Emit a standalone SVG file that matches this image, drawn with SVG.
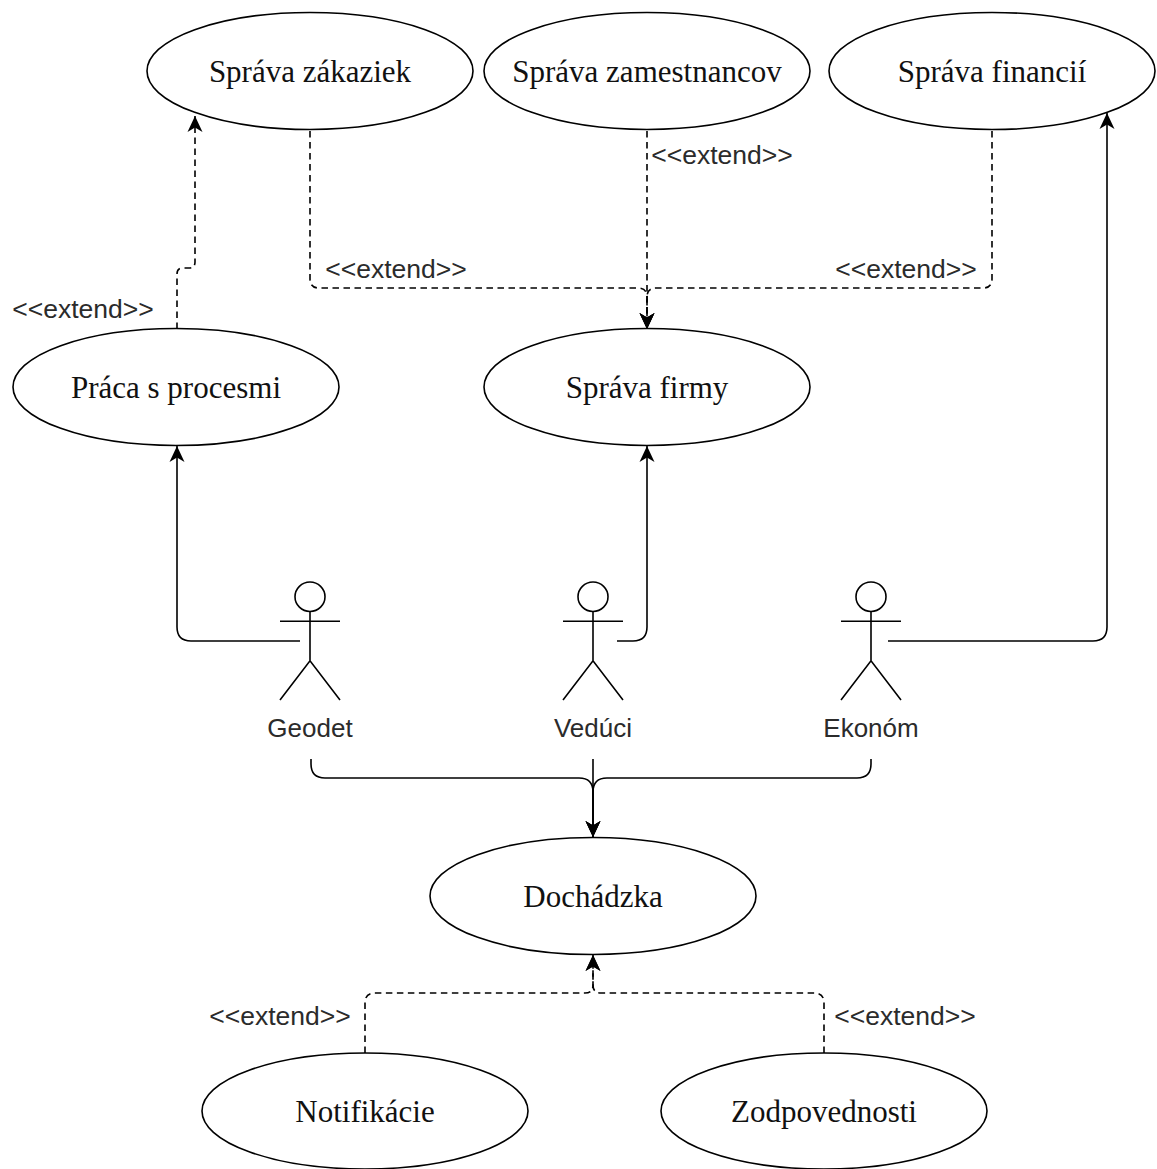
<svg xmlns="http://www.w3.org/2000/svg" width="1157" height="1169" viewBox="0 0 1157 1169">
  <style>
    .uc { fill: #ffffff; stroke: #000000; stroke-width: 1.6; }
    .uc-text { font-family: "Liberation Serif", "Times New Roman", serif; font-size: 31px; fill: #111111; text-anchor: middle; }
    .actor { fill: none; stroke: #000000; stroke-width: 1.6; }
    .actor-head { fill: #ffffff; stroke: #000000; stroke-width: 1.6; }
    .actor-text { font-family: "Liberation Sans", Arial, sans-serif; font-size: 26px; fill: #2b2b2b; text-anchor: middle; }
    .edge { fill: none; stroke: #000000; stroke-width: 1.6; }
    .dashed { stroke-dasharray: 6.5 4.5; }
    .ext { font-family: "Liberation Sans", Arial, sans-serif; font-size: 26.5px; fill: #2b2b2b; text-anchor: middle; }
  </style>
  <defs>
    <marker id="arrow" markerUnits="userSpaceOnUse" markerWidth="22" markerHeight="22" viewBox="-19 -11 22 22" refX="0" refY="0" orient="auto">
      <path d="M0,0 L-16,-7.5 L-11.5,0 L-16,7.5 Z" fill="#000000"/>
    </marker>
  </defs>

  <rect x="0" y="0" width="1157" height="1169" fill="#ffffff"/>

  <!-- connectors -->
  <g id="connectors">
    <!-- Praca s procesmi extends Sprava zakaziek -->
    <path class="edge dashed" d="M177,329 V274 Q177,268 183,268 H189 Q195,268 195,262 V116" marker-end="url(#arrow)"/>
    <!-- Sprava zakaziek extends Sprava firmy -->
    <path class="edge dashed" d="M310,131 V279 Q310,288 319,288 H638 Q647,288 647,297 V329" marker-end="url(#arrow)"/>
    <!-- Sprava zamestnancov extends Sprava firmy -->
    <path class="edge dashed" d="M647,131 V329" marker-end="url(#arrow)"/>
    <!-- Sprava financii extends Sprava firmy -->
    <path class="edge dashed" d="M992,131 V279 Q992,288 983,288 H656 Q647,288 647,297 V329" marker-end="url(#arrow)"/>

    <!-- actor associations -->
    <path class="edge" d="M300,641 H191 Q177,641 177,627 V446" marker-end="url(#arrow)"/>
    <path class="edge" d="M617,641 H633 Q647,641 647,627 V446" marker-end="url(#arrow)"/>
    <path class="edge" d="M888,641 H1093 Q1107,641 1107,627 V113" marker-end="url(#arrow)"/>

    <!-- all actors use Dochadzka -->
    <path class="edge" d="M311,759 V764 Q311,778 325,778 H579 Q593,778 593,792 V837" marker-end="url(#arrow)"/>
    <path class="edge" d="M593,759 V837" marker-end="url(#arrow)"/>
    <path class="edge" d="M871,759 V764 Q871,778 857,778 H607 Q593,778 593,792 V837" marker-end="url(#arrow)"/>

    <!-- Notifikacie / Zodpovednosti extend Dochadzka -->
    <path class="edge dashed" d="M365,1053 V1003 Q365,993 375,993 H585 Q593,993 593,985 V955" marker-end="url(#arrow)"/>
    <path class="edge dashed" d="M824,1053 V1003 Q824,993 814,993 H601 Q593,993 593,985 V955" marker-end="url(#arrow)"/>

    <g id="edge-labels">
      <text class="ext" x="83" y="318">&lt;&lt;extend&gt;&gt;</text>
      <text class="ext" x="396" y="278">&lt;&lt;extend&gt;&gt;</text>
      <text class="ext" x="722" y="164">&lt;&lt;extend&gt;&gt;</text>
      <text class="ext" x="906" y="278">&lt;&lt;extend&gt;&gt;</text>
      <text class="ext" x="280" y="1025">&lt;&lt;extend&gt;&gt;</text>
      <text class="ext" x="905" y="1025">&lt;&lt;extend&gt;&gt;</text>
    </g>
  </g>

  <!-- use cases -->
  <g id="sprava-zakaziek">
    <ellipse class="uc" cx="310" cy="71" rx="163" ry="58.5"/>
    <text class="uc-text" x="310" y="82">Správa zákaziek</text>
  </g>
  <g id="sprava-zamestnancov">
    <ellipse class="uc" cx="647" cy="71" rx="163" ry="58.5"/>
    <text class="uc-text" x="647" y="82">Správa zamestnancov</text>
  </g>
  <g id="sprava-financii">
    <ellipse class="uc" cx="992" cy="71" rx="163" ry="58.5"/>
    <text class="uc-text" x="992" y="82">Správa financií</text>
  </g>
  <g id="praca-s-procesmi">
    <ellipse class="uc" cx="176" cy="387" rx="163" ry="58.5"/>
    <text class="uc-text" x="176" y="398">Práca s procesmi</text>
  </g>
  <g id="sprava-firmy">
    <ellipse class="uc" cx="647" cy="387" rx="163" ry="58.5"/>
    <text class="uc-text" x="647" y="398">Správa firmy</text>
  </g>
  <g id="dochadzka">
    <ellipse class="uc" cx="593" cy="896" rx="163" ry="58.5"/>
    <text class="uc-text" x="593" y="907">Dochádzka</text>
  </g>
  <g id="notifikacie">
    <ellipse class="uc" cx="365" cy="1111" rx="163" ry="58"/>
    <text class="uc-text" x="365" y="1122">Notifikácie</text>
  </g>
  <g id="zodpovednosti">
    <ellipse class="uc" cx="824" cy="1111" rx="163" ry="58"/>
    <text class="uc-text" x="824" y="1122">Zodpovednosti</text>
  </g>

  <!-- actors -->
  <g id="geodet">
    <ellipse class="actor-head" cx="310" cy="596.75" rx="15" ry="14.75"/>
    <path class="actor" d="M310,611.5 V660.7 M280,621.3 H340 M280,700 L310,660.7 L340,700"/>
    <text class="actor-text" x="310" y="737">Geodet</text>
  </g>
  <g id="veduci">
    <ellipse class="actor-head" cx="593" cy="596.75" rx="15" ry="14.75"/>
    <path class="actor" d="M593,611.5 V660.7 M563,621.3 H623 M563,700 L593,660.7 L623,700"/>
    <text class="actor-text" x="593" y="737">Vedúci</text>
  </g>
  <g id="ekonom">
    <ellipse class="actor-head" cx="871" cy="596.75" rx="15" ry="14.75"/>
    <path class="actor" d="M871,611.5 V660.7 M841,621.3 H901 M841,700 L871,660.7 L901,700"/>
    <text class="actor-text" x="871" y="737">Ekonóm</text>
  </g>
</svg>
